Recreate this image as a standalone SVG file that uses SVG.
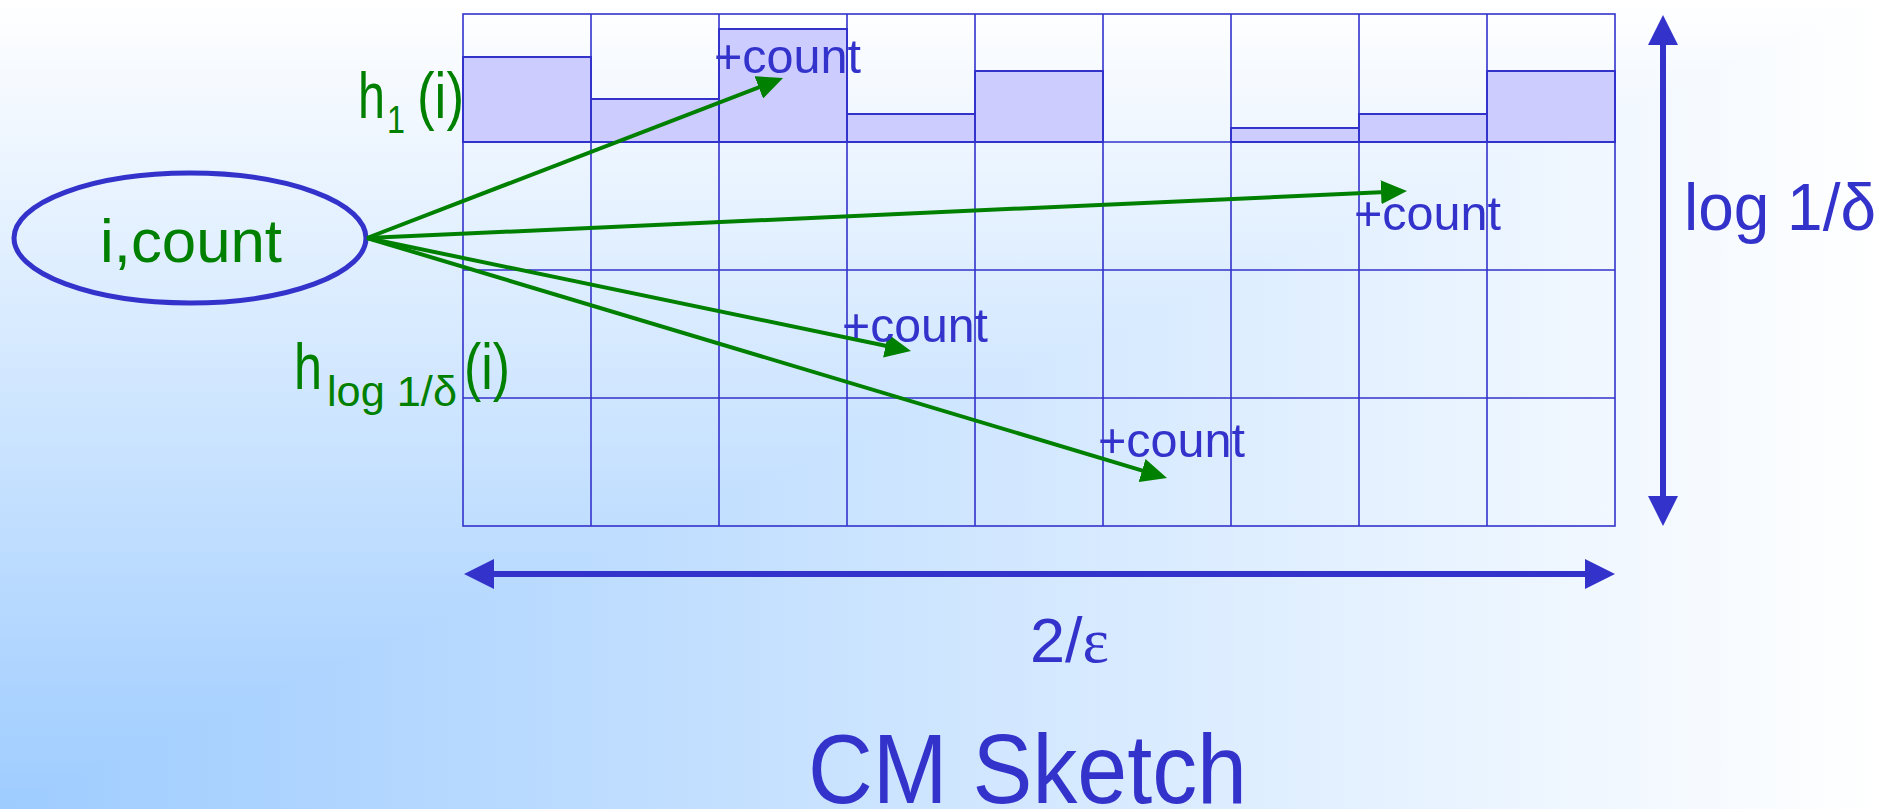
<svg xmlns="http://www.w3.org/2000/svg" width="1883" height="809" viewBox="0 0 1883 809">
<defs>
<linearGradient id="gh" x1="0" y1="0" x2="1883" y2="0" gradientUnits="userSpaceOnUse">
<stop offset="0" stop-color="#9ECCFF"/><stop offset="1" stop-color="#FFFFFF"/>
</linearGradient>
<linearGradient id="gv" x1="0" y1="809" x2="0" y2="0" gradientUnits="userSpaceOnUse">
<stop offset="0" stop-color="#9ECCFF"/><stop offset="1" stop-color="#FFFFFF"/>
</linearGradient>
<marker id="ga" viewBox="0 0 26 24" markerUnits="userSpaceOnUse" markerWidth="26" markerHeight="24" refX="16" refY="12" orient="auto">
<path d="M0,0 L26,12 L0,24 z" fill="#008000"/>
</marker>
<marker id="ba" viewBox="0 0 30 30" markerUnits="userSpaceOnUse" markerWidth="30" markerHeight="30" refX="20" refY="15" orient="auto-start-reverse">
<path d="M0,0 L30,15 L0,30 z" fill="#3333CC"/>
</marker>
<style>
.grid{fill:none;stroke:#3333CC;stroke-width:1.6}
.bar{fill:#CCCCFF;stroke:#3333CC;stroke-width:2}
.g{fill:#008000;font-family:"Liberation Sans",Arial,sans-serif}
.b{fill:#3333CC;font-family:"Liberation Sans",Arial,sans-serif}
.cnt{font-size:48px}
.garrow{stroke:#008000;stroke-width:4;fill:none;marker-end:url(#ga)}
.barrow{stroke:#3333CC;stroke-width:6;fill:none;marker-end:url(#ba);marker-start:url(#ba)}
</style>
</defs>
<g id="background">
<rect x="0" y="0" width="1883" height="809" fill="url(#gh)"/>
<polygon points="0,0 1883,0 0,809" fill="url(#gv)"/>
</g>
<g id="sketch-grid">
<rect class="bar" x="463" y="57" width="128" height="85"/>
<rect class="bar" x="591" y="99" width="128" height="43"/>
<rect class="bar" x="719" y="29" width="128" height="113"/>
<rect class="bar" x="847" y="114" width="128" height="28"/>
<rect class="bar" x="975" y="71" width="128" height="71"/>
<rect class="bar" x="1231" y="128" width="128" height="14"/>
<rect class="bar" x="1359" y="114" width="128" height="28"/>
<rect class="bar" x="1487" y="71" width="128" height="71"/>
<path class="grid" d="M591,14V526M719,14V526M847,14V526M975,14V526M1103,14V526M1231,14V526M1359,14V526M1487,14V526M463,142H1615M463,270H1615M463,398H1615"/>
<rect class="grid" x="463" y="14" width="1152" height="512" stroke-width="2.2"/>
</g>
<g id="item-node">
<ellipse cx="190" cy="238" rx="176" ry="65" fill="none" stroke="#3333CC" stroke-width="5"/>
<text class="g" x="100" y="262" font-size="62" textLength="182" lengthAdjust="spacingAndGlyphs">i,count</text>
</g>
<g id="connectors">
<line class="garrow" x1="367" y1="238" x2="773.7" y2="81.6"/>
<line class="garrow" x1="367" y1="238" x2="1397" y2="191.5"/>
<line class="garrow" x1="367" y1="238" x2="901.2" y2="349"/>
<line class="garrow" x1="367" y1="238" x2="1157.4" y2="475.1"/>
<line class="barrow" x1="474" y1="574" x2="1605" y2="574"/>
<line class="barrow" x1="1663" y1="25" x2="1663" y2="516"/>
</g>
<g id="labels">
<text class="g" x="358" y="118" font-size="64" textLength="27" lengthAdjust="spacingAndGlyphs">h</text>
<text class="g" x="387" y="133" font-size="39" textLength="18" lengthAdjust="spacingAndGlyphs">1</text>
<text class="g" x="417" y="118" font-size="64" textLength="47" lengthAdjust="spacingAndGlyphs">(i)</text>
<text class="g" x="294" y="389" font-size="64" textLength="28" lengthAdjust="spacingAndGlyphs">h</text>
<text class="g" x="327" y="406" font-size="42" textLength="130" lengthAdjust="spacingAndGlyphs">log 1/δ</text>
<text class="g" x="464" y="389" font-size="64" textLength="46" lengthAdjust="spacingAndGlyphs">(i)</text>
<text class="b cnt" x="714" y="73" textLength="147" lengthAdjust="spacingAndGlyphs">+count</text>
<text class="b cnt" x="1354" y="230" textLength="147" lengthAdjust="spacingAndGlyphs">+count</text>
<text class="b cnt" x="842" y="342" textLength="146" lengthAdjust="spacingAndGlyphs">+count</text>
<text class="b cnt" x="1098" y="457" textLength="147" lengthAdjust="spacingAndGlyphs">+count</text>
<text class="b" x="1684" y="230" font-size="66" textLength="192" lengthAdjust="spacingAndGlyphs">log 1/δ</text>
<text class="b" x="1030" y="662" font-size="63">2/<tspan font-family="'Liberation Serif',serif">ε</tspan></text>
<text class="b" x="808" y="803" font-size="98" textLength="439" lengthAdjust="spacingAndGlyphs">CM Sketch</text>
</g>
</svg>
